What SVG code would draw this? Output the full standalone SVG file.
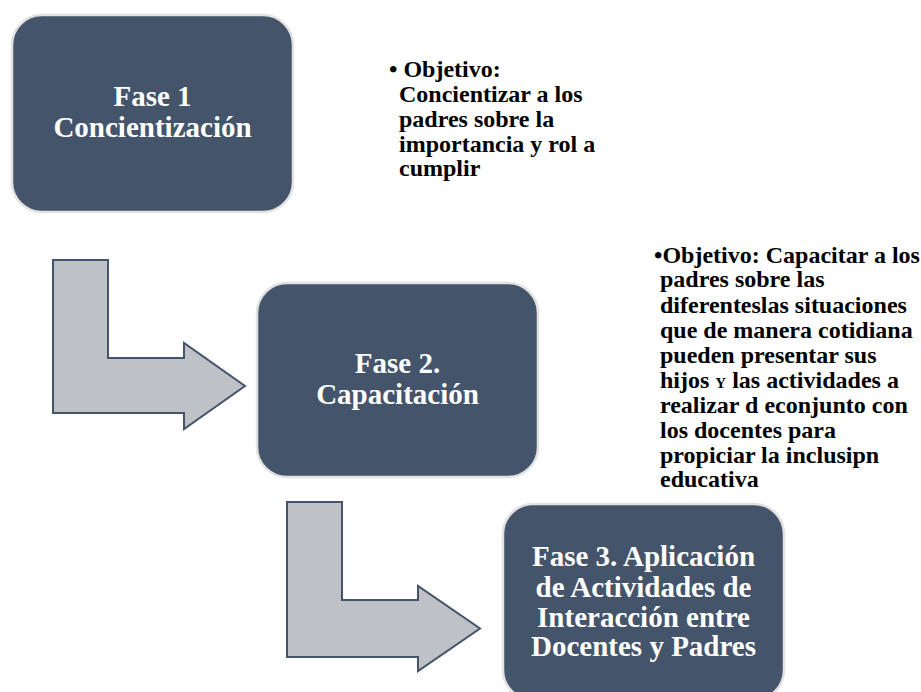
<svg xmlns="http://www.w3.org/2000/svg" width="921" height="692" viewBox="0 0 921 692">
<style>
.box{fill:#44546A;stroke:#E2E2E2;stroke-width:2.5}
.arrow{fill:#BEC2C7;stroke:#44546A;stroke-width:2;stroke-linejoin:miter}
.bt{font-family:'Liberation Serif','Times New Roman',Times,'DejaVu Serif',serif;font-weight:700;font-size:29px;fill:#FFFFFF;text-anchor:middle}
.ot{font-family:'Liberation Serif','Times New Roman',Times,'DejaVu Serif',serif;font-weight:700;font-size:24px;fill:#000000}
</style>
<rect width="921" height="692" fill="#FFFFFF"/>
<g id="connectors">
<polygon class="arrow" points="53,260 108,260 108,358 184,358 184,343 245,386 184,429 184,413 53,413"/>
<polygon class="arrow" points="287,502 342,502 342,600 418,600 418,586 480,628.5 418,671 418,657 287,657"/>
</g>
<g id="fase1">
<rect class="box" x="12" y="15" width="281" height="197" rx="30" ry="30"/>
<text class="bt" x="152.5" y="106" font-family="Liberation Serif">Fase 1</text>
<text class="bt" x="152.5" y="137">Concientización</text>
</g>
<g id="fase2">
<rect class="box" x="257" y="283" width="281" height="194" rx="30" ry="30"/>
<text class="bt" x="397.5" y="373">Fase 2.</text>
<text class="bt" x="397.5" y="404">Capacitación</text>
</g>
<g id="fase3">
<rect class="box" x="503" y="504" width="281" height="196" rx="30" ry="30"/>
<text class="bt" x="643.5" y="566">Fase 3. Aplicación</text>
<text class="bt" x="643.5" y="597">de Actividades de</text>
<text class="bt" x="643.5" y="627">Interacción entre</text>
<text class="bt" x="643.5" y="656">Docentes y Padres</text>
</g>
<g id="objetivo1">
<text class="ot" x="389" y="77">• Objetivo:</text>
<text class="ot" x="399" y="102">Concientizar a los</text>
<text class="ot" x="399" y="127">padres sobre la</text>
<text class="ot" x="399" y="152">importancia y rol a</text>
<text class="ot" x="399" y="176">cumplir</text>
</g>
<g id="objetivo2">
<text class="ot" x="654" y="263">•Objetivo: Capacitar a los</text>
<text class="ot" x="660" y="287">padres sobre las</text>
<text class="ot" x="660" y="313">diferenteslas situaciones</text>
<text class="ot" x="660" y="338">que de manera cotidiana</text>
<text class="ot" x="660" y="363">pueden presentar sus</text>
<text class="ot" x="660" y="388">hijos <tspan font-size="15">Y</tspan> las actividades a</text>
<text class="ot" x="660" y="413">realizar d econjunto con</text>
<text class="ot" x="660" y="438">los docentes para</text>
<text class="ot" x="660" y="463">propiciar la inclusipn</text>
<text class="ot" x="660" y="487">educativa</text>
</g>
</svg>
